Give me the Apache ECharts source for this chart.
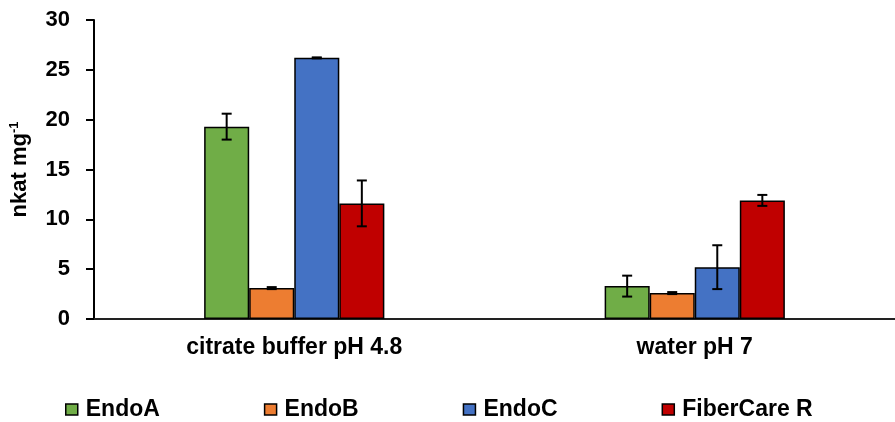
<!DOCTYPE html>
<html>
<head>
<meta charset="utf-8">
<style>
  html, body { margin: 0; padding: 0; background: #fff; }
  #chart { width: 895px; height: 422px; }
</style>
<script src="https://cdn.jsdelivr.net/npm/echarts@6/dist/echarts.min.js"></script>
</head>
<body>
<div id="chart"></div>
<script>
// Conditions on the x axis
const categories = ['citrate buffer pH 4.8', 'water pH 7'];

// Enzyme names and mean activities (nkat mg-1) per condition
const seriesNames = ['EndoA', 'EndoB', 'EndoC', 'FiberCare R'];
const endoA = [19.3, 3.3];
const endoB = [3.1, 2.6];
const endoC = [26.2, 5.2];
const fiberCare = [11.6, 11.9];

// Standard deviations for the error bars
const endoAErr = [1.3, 1.05];
const endoBErr = [0.1, 0.1];
const endoCErr = [0.05, 2.2];
const fiberCareErr = [2.3, 0.55];

// Y axis ticks
const yTicks = [0, 5, 10, 15, 20, 25, 30];

const colors = ['#70AD47', '#ED7D31', '#4472C4', '#C00000'];
const means = [endoA, endoB, endoC, fiberCare];
const errs = [endoAErr, endoBErr, endoCErr, fiberCareErr];

const FONT = 'Liberation Sans, Arial, sans-serif';
const GAP = 0.55; // barCategoryGap as a fraction

const chart = echarts.init(document.getElementById('chart'), null, { renderer: 'canvas' });

const barSeries = seriesNames.map((name, i) => ({
  name: name,
  type: 'bar',
  data: means[i],
  barGap: '0%',
  barCategoryGap: (GAP * 100) + '%',
  itemStyle: { color: colors[i], borderColor: '#000', borderWidth: 1.5 },
  z: 2
}));

// Error bars drawn over each bar, offset to the bar's slot in the group
const errSeries = seriesNames.map((name, i) => ({
  type: 'custom',
  data: means[i].map((m, k) => [k, m - errs[i][k], m + errs[i][k]]),
  z: 5,
  silent: true,
  renderItem: function (params, api) {
    const k = api.value(0);
    const lo = api.coord([k, api.value(1)]);
    const hi = api.coord([k, api.value(2)]);
    const band = api.size([1, 0])[0];
    const barW = band * (1 - GAP) / seriesNames.length;
    const x = lo[0] + (i - (seriesNames.length - 1) / 2) * barW;
    const cap = 5;
    const style = { stroke: '#000', lineWidth: 2 };
    return {
      type: 'group',
      children: [
        { type: 'line', shape: { x1: x, y1: lo[1], x2: x, y2: hi[1] }, style: style },
        { type: 'line', shape: { x1: x - cap, y1: lo[1], x2: x + cap, y2: lo[1] }, style: style },
        { type: 'line', shape: { x1: x - cap, y1: hi[1], x2: x + cap, y2: hi[1] }, style: style }
      ]
    };
  }
}));

chart.setOption({
  animation: false,
  textStyle: { fontFamily: FONT },
  grid: { left: 94, right: -8, top: 20, bottom: 103, containLabel: false },
  legend: {
    data: seriesNames,
    left: 60,
    top: 393,
    itemWidth: 12,
    itemHeight: 11,
    itemGap: 104,
    icon: 'rect',
    textStyle: { fontFamily: FONT, fontWeight: 'bold', fontSize: 23, color: '#000', padding: [0, 0, 0, 3] },
    itemStyle: { borderColor: '#000', borderWidth: 1.5 }
  },
  xAxis: {
    type: 'category',
    data: categories,
    axisLine: { lineStyle: { color: '#222', width: 2 } },
    axisTick: { show: false },
    axisLabel: { color: '#000', fontWeight: 'bold', fontSize: 23, margin: 17, fontFamily: FONT }
  },
  yAxis: {
    type: 'value',
    min: yTicks[0],
    max: yTicks[yTicks.length - 1],
    interval: 5,
    name: '{a|nkat mg}{s|-1}',
    nameLocation: 'middle',
    nameRotate: 90,
    nameGap: 62,
    nameTextStyle: {
      rich: {
        a: { fontFamily: FONT, fontWeight: 'bold', fontSize: 22, color: '#000', lineHeight: 24 },
        s: { fontFamily: FONT, fontWeight: 'bold', fontSize: 13, color: '#000', verticalAlign: 'top', lineHeight: 24 }
      }
    },
    splitLine: { show: false },
    axisLine: { show: true, lineStyle: { color: '#000', width: 2 } },
    axisTick: { show: true, length: 8, lineStyle: { color: '#000', width: 2 } },
    axisLabel: { color: '#000', fontWeight: 'bold', fontSize: 22, margin: 24, fontFamily: FONT }
  },
  series: barSeries.concat(errSeries)
});
</script>
</body>
</html>
